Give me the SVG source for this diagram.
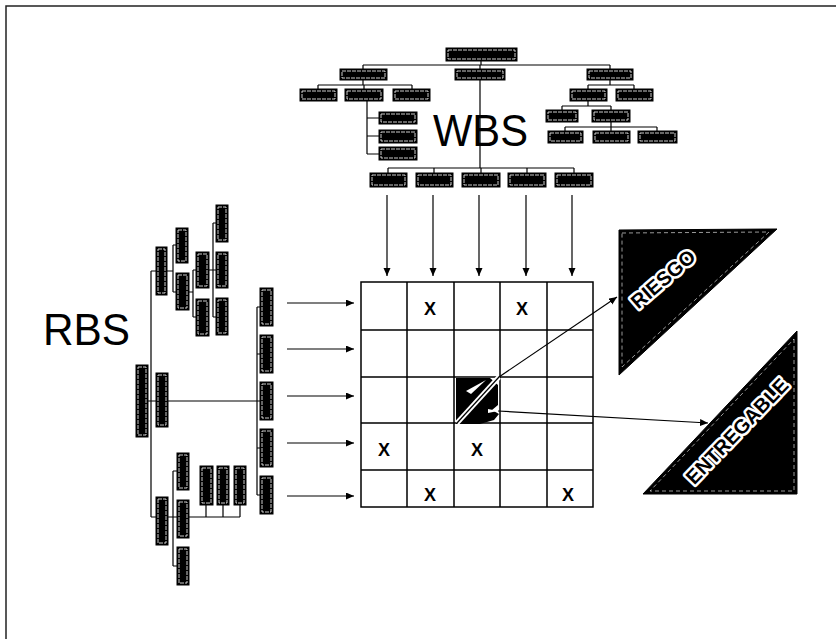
<svg xmlns="http://www.w3.org/2000/svg" width="836" height="639" viewBox="0 0 836 639">
<defs>
<style>
.b{fill:#000;stroke:#000;stroke-width:1}
.bi{fill:none;stroke:#fff;stroke-width:0.8;stroke-dasharray:4 1}
.ln{fill:none;stroke:#000;stroke-width:1.2}
.ar{fill:none;stroke:#000;stroke-width:1.2;marker-end:url(#ah)}
.grid{fill:none;stroke:#000;stroke-width:1.5}
.x{font-family:"Liberation Sans",Arial,sans-serif;font-weight:bold;font-size:18px;text-anchor:middle;fill:#000}
.big{font-family:"Liberation Sans",Arial,sans-serif;font-size:44px;fill:#000}
.tri{fill:#000;stroke:#000;stroke-width:1}
.trii{fill:none;stroke:#fff;stroke-width:0.6;stroke-dasharray:4 3}
.tt{font-family:"Liberation Sans",Arial,sans-serif;font-weight:bold;fill:#000;stroke:#fff;stroke-width:5;paint-order:stroke;stroke-linejoin:round;text-anchor:middle;dominant-baseline:central}
</style>
<marker id="ah" markerUnits="userSpaceOnUse" markerWidth="9" markerHeight="8" refX="8" refY="3.5" orient="auto">
<path d="M0,0 L8,3.5 L0,7 z" fill="#000"/>
</marker>
</defs>
<rect width="836" height="639" fill="#fff"/>
<path d="M6,639 V6 H836" fill="none" stroke="#222" stroke-width="1.5"/>

<g id="connectors">
<path class="ln" d="M481,61 V65 M363,65 H610 M363,65 V69 M480,65 V69 M610,65 V69"/>
<path class="ln" d="M363,80 V85 M318,85 H412 M318,85 V89 M364,85 V89 M412,85 V89"/>
<path class="ln" d="M367,101 V154 M367,118 H379 M367,136 H379 M367,154 H379"/>
<path class="ln" d="M480,80 V168 M388,168 H574 M388,168 V173 M434,168 V173 M481,168 V173 M527,168 V173 M574,168 V173"/>
<path class="ln" d="M610,80 V85 M588,85 H634 M588,85 V89 M634,85 V89"/>
<path class="ln" d="M588,101 V106 M562,106 H611 M562,106 V110 M611,106 V110"/>
<path class="ln" d="M611,122 V127 M565,127 H657 M565,127 V131 M611,127 V131 M657,127 V131"/>
<path class="ln" d="M148,401 H156 M151,271 V517 M151,271 H156 M151,517 H156"/>
<path class="ln" d="M167,271 H173 M173,245 V292 M173,245 H176 M173,292 H176"/>
<path class="ln" d="M189,292 H193 M193,270 V317 M193,270 H196 M193,317 H196"/>
<path class="ln" d="M209,270 H213 M213,223 V317 M213,223 H216 M213,270 H216 M213,317 H216"/>
<path class="ln" d="M168,401 H257 M257,307 V495 M257,307 H260 M257,354 H260 M257,401 H260 M257,448 H260 M257,495 H260"/>
<path class="ln" d="M168,517 H173 M173,471 V566 M173,471 H177 M173,517 H177 M173,566 H177"/>
<path class="ln" d="M189,517 H240 M206,505 V517 M223,505 V517 M240,505 V517"/>
<path class="ar" d="M387,195 V276"/>
<path class="ar" d="M433,195 V276"/>
<path class="ar" d="M479,195 V276"/>
<path class="ar" d="M526,195 V276"/>
<path class="ar" d="M572,195 V276"/>
<path class="ar" d="M287,303 H354"/>
<path class="ar" d="M287,349 H354"/>
<path class="ar" d="M287,396 H354"/>
<path class="ar" d="M287,443 H354"/>
<path class="ar" d="M287,496 H354"/>
<path class="ar" d="M499,377 L617,297"/>
<path class="ar" d="M498,411 L708,423"/>
</g>

<g id="w0"><rect class="b" x="446" y="48" width="71" height="13"/><rect class="bi" x="448" y="50" width="67" height="9"/></g>
<g id="w1"><rect class="b" x="340" y="69" width="47" height="11"/><rect class="bi" x="342" y="71" width="43" height="7"/></g>
<g id="w2"><rect class="b" x="455" y="69" width="50" height="11"/><rect class="bi" x="457" y="71" width="46" height="7"/></g>
<g id="w3"><rect class="b" x="587" y="69" width="46" height="11"/><rect class="bi" x="589" y="71" width="42" height="7"/></g>
<g id="w11"><rect class="b" x="300" y="89" width="37" height="12"/><rect class="bi" x="302" y="91" width="33" height="8"/></g>
<g id="w12"><rect class="b" x="345" y="89" width="38" height="12"/><rect class="bi" x="347" y="91" width="34" height="8"/></g>
<g id="w13"><rect class="b" x="393" y="89" width="37" height="12"/><rect class="bi" x="395" y="91" width="33" height="8"/></g>
<g id="w121"><rect class="b" x="379" y="112" width="38" height="12"/><rect class="bi" x="381" y="114" width="34" height="8"/></g>
<g id="w122"><rect class="b" x="379" y="130" width="38" height="13"/><rect class="bi" x="381" y="132" width="34" height="9"/></g>
<g id="w123"><rect class="b" x="379" y="147" width="38" height="13"/><rect class="bi" x="381" y="149" width="34" height="9"/></g>
<g id="w31"><rect class="b" x="570" y="89" width="37" height="12"/><rect class="bi" x="572" y="91" width="33" height="8"/></g>
<g id="w32"><rect class="b" x="616" y="89" width="37" height="12"/><rect class="bi" x="618" y="91" width="33" height="8"/></g>
<g id="w311"><rect class="b" x="546" y="110" width="32" height="12"/><rect class="bi" x="548" y="112" width="28" height="8"/></g>
<g id="w312"><rect class="b" x="592" y="110" width="38" height="12"/><rect class="bi" x="594" y="112" width="34" height="8"/></g>
<g id="w3121"><rect class="b" x="548" y="131" width="35" height="12"/><rect class="bi" x="550" y="133" width="31" height="8"/></g>
<g id="w3122"><rect class="b" x="593" y="131" width="37" height="12"/><rect class="bi" x="595" y="133" width="33" height="8"/></g>
<g id="w3123"><rect class="b" x="638" y="131" width="39" height="12"/><rect class="bi" x="640" y="133" width="35" height="8"/></g>
<g id="w21"><rect class="b" x="370" y="173" width="37" height="14"/><rect class="bi" x="372" y="175" width="33" height="10"/></g>
<g id="w22"><rect class="b" x="416" y="173" width="37" height="14"/><rect class="bi" x="418" y="175" width="33" height="10"/></g>
<g id="w23"><rect class="b" x="462" y="173" width="38" height="14"/><rect class="bi" x="464" y="175" width="34" height="10"/></g>
<g id="w24"><rect class="b" x="508" y="173" width="38" height="14"/><rect class="bi" x="510" y="175" width="34" height="10"/></g>
<g id="w25"><rect class="b" x="555" y="173" width="38" height="14"/><rect class="bi" x="557" y="175" width="34" height="10"/></g>

<g id="r0"><rect class="b" x="136" y="365" width="12" height="72"/><rect class="bi" x="138" y="367" width="8" height="68"/></g>
<g id="r1"><rect class="b" x="156" y="247" width="11" height="48"/><rect class="bi" x="158" y="249" width="7" height="44"/></g>
<g id="r2"><rect class="b" x="156" y="373" width="12" height="54"/><rect class="bi" x="158" y="375" width="8" height="50"/></g>
<g id="r3"><rect class="b" x="156" y="497" width="12" height="48"/><rect class="bi" x="158" y="499" width="8" height="44"/></g>
<g id="r11"><rect class="b" x="176" y="228" width="12" height="35"/><rect class="bi" x="178" y="230" width="8" height="31"/></g>
<g id="r12"><rect class="b" x="176" y="273" width="13" height="37"/><rect class="bi" x="178" y="275" width="9" height="33"/></g>
<g id="r121"><rect class="b" x="196" y="252" width="13" height="36"/><rect class="bi" x="198" y="254" width="9" height="32"/></g>
<g id="r122"><rect class="b" x="196" y="299" width="13" height="37"/><rect class="bi" x="198" y="301" width="9" height="33"/></g>
<g id="r1211"><rect class="b" x="216" y="205" width="12" height="37"/><rect class="bi" x="218" y="207" width="8" height="33"/></g>
<g id="r1212"><rect class="b" x="216" y="252" width="12" height="36"/><rect class="bi" x="218" y="254" width="8" height="32"/></g>
<g id="r1213"><rect class="b" x="216" y="298" width="12" height="37"/><rect class="bi" x="218" y="300" width="8" height="33"/></g>
<g id="r21"><rect class="b" x="260" y="288" width="13" height="38"/><rect class="bi" x="262" y="290" width="9" height="34"/></g>
<g id="r22"><rect class="b" x="260" y="335" width="13" height="38"/><rect class="bi" x="262" y="337" width="9" height="34"/></g>
<g id="r23"><rect class="b" x="260" y="382" width="13" height="38"/><rect class="bi" x="262" y="384" width="9" height="34"/></g>
<g id="r24"><rect class="b" x="260" y="429" width="13" height="38"/><rect class="bi" x="262" y="431" width="9" height="34"/></g>
<g id="r25"><rect class="b" x="260" y="476" width="13" height="38"/><rect class="bi" x="262" y="478" width="9" height="34"/></g>
<g id="r31"><rect class="b" x="177" y="453" width="12" height="37"/><rect class="bi" x="179" y="455" width="8" height="33"/></g>
<g id="r32"><rect class="b" x="177" y="500" width="12" height="38"/><rect class="bi" x="179" y="502" width="8" height="34"/></g>
<g id="r33"><rect class="b" x="177" y="547" width="12" height="38"/><rect class="bi" x="179" y="549" width="8" height="34"/></g>
<g id="r321"><rect class="b" x="200" y="466" width="13" height="39"/><rect class="bi" x="202" y="468" width="9" height="35"/></g>
<g id="r322"><rect class="b" x="217" y="466" width="12" height="39"/><rect class="bi" x="219" y="468" width="8" height="35"/></g>
<g id="r323"><rect class="b" x="234" y="466" width="12" height="39"/><rect class="bi" x="236" y="468" width="8" height="35"/></g>

<text class="big" x="433" y="146" textLength="95" lengthAdjust="spacingAndGlyphs">WBS</text>
<text class="big" x="43" y="345" textLength="87" lengthAdjust="spacingAndGlyphs">RBS</text>

<g id="matrix">
<rect class="grid" x="361" y="282" width="232" height="225" stroke-width="1.8"/>
<path class="grid" d="M407,282 V507 M454,282 V507 M500,282 V507 M547,282 V507 M361,330 H593 M361,377 H593 M361,423 H593 M361,470 H593"/>
<text class="x" x="430" y="315">X</text>
<text class="x" x="522" y="315">X</text>
<text class="x" x="384" y="456">X</text>
<text class="x" x="477" y="456">X</text>
<text class="x" x="430" y="501">X</text>
<text class="x" x="568" y="501">X</text>
<g id="icon">
<polygon points="456,378 490,378 498,385 498,405 492,410 499,414 494,420 480,424 456,424" fill="#000"/>
<path d="M457,423 L499,377" stroke="#fff" stroke-width="5" fill="none"/>
<path d="M457,423 L499,377" stroke="#000" stroke-width="1.2" fill="none"/>
<path d="M466,391 L486,380 L471,394 z" fill="#fff"/>
<path d="M488,409 L498,411 L488,413 z" fill="#fff"/>
</g>
</g>

<g id="riesgo">
<polygon class="tri" points="619,230 777,229 619,375"/>
<polygon class="trii" points="622,233 769,232 622,367"/>
<text class="tt" x="663" y="279" font-size="20" transform="rotate(-41 663 279)">RIESGO</text>
</g>
<g id="entregable">
<polygon class="tri" points="797,331 797,494 643,494"/>
<polygon class="trii" points="794,339 794,491 650,491"/>
<text class="tt" x="737" y="431" font-size="20" transform="rotate(-46 737 431)">ENTREGABLE</text>
</g>
</svg>
